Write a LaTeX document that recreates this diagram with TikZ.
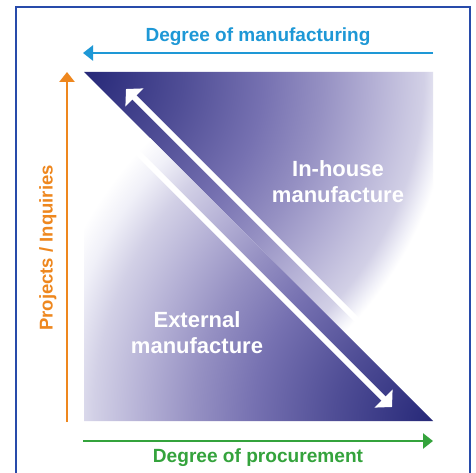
\documentclass[tikz,border=0pt]{standalone}
\usepackage{fontspec}
\setmainfont{Liberation Sans}
\usetikzlibrary{arrows.meta}
\definecolor{cA}{RGB}{38,40,120}
\definecolor{cB}{RGB}{80,78,150}
\definecolor{cC}{RGB}{118,113,177}
\definecolor{cD}{RGB}{150,145,195}
\definecolor{cE}{RGB}{180,176,213}
\definecolor{cF}{RGB}{210,208,230}
\definecolor{cG}{RGB}{240,240,248}
\definecolor{mblue}{RGB}{30,152,214}
\definecolor{morange}{RGB}{238,135,30}
\definecolor{mgreen}{RGB}{52,163,60}
\definecolor{frameblue}{RGB}{40,75,170}
% radius r (px) maps to r/16 bp on a 400px circle
\pgfdeclareradialshading{uppershade}{\pgfpoint{0bp}{0bp}}{color(0bp)=(cA); color(6.25bp)=(cB); color(11.25bp)=(cC); color(15bp)=(cD); color(18.1bp)=(cE); color(21.25bp)=(cF); color(22.4bp)=(cG); color(23bp)=(white); color(50bp)=(white)}
\pgfdeclareradialshading{lowershade}{\pgfpoint{0bp}{0bp}}{color(0bp)=(cA); color(6.25bp)=(cB); color(11.25bp)=(cC); color(15bp)=(cD); color(18.1bp)=(cE); color(21.25bp)=(cF); color(23.4bp)=(cG); color(25bp)=(white); color(50bp)=(white)}
\tikzset{
  frame/.style={draw=frameblue, line width=1.3pt},
  wharrow/.style={draw=white, line width=6pt, -{Triangle[length=12pt,width=25pt]}},
  axisarrow/.style={line width=2.7pt, -{Triangle[length=10pt,width=15pt]}},
  axislbl/.style={inner sep=0pt, anchor=base},
  arealbl/.style={inner sep=0pt, text=white, align=center, font=\bfseries\fontsize{22}{26}\selectfont}
}
\begin{document}
\begin{tikzpicture}[x=1pt,y=-1pt]
\useasboundingbox (0,0) rectangle (476,473);
\fill[white] (0,0) rectangle (476,473);
\draw[frame] (16,7) rectangle (470,495);
\coordinate (TL) at (84,72);
\coordinate (TR) at (433,72);
\coordinate (BL) at (84,421);
\coordinate (BR) at (433,421);
\begin{scope}
  \clip (TL) -- (TR) -- (BR) -- cycle;
  \shade[shading=uppershade] (TL) circle[radius=400pt];
\end{scope}
\begin{scope}
  \clip (TL) -- (BL) -- (BR) -- cycle;
  \shade[shading=lowershade] (BR) circle[radius=400pt];
\end{scope}
% white arrows
\coordinate (ua1) at (425,388);
\coordinate (ua2) at (126,89);
\draw[wharrow] (ua1) -- (ua2);
\coordinate (la1) at (95,110);
\coordinate (la2) at (392,407);
\draw[wharrow] (la1) -- (la2);
% axis arrows
\coordinate (bs) at (433,53);
\coordinate (be) at (83,53);
\draw[axisarrow, draw=mblue, fill=mblue] (bs) -- (be);
\coordinate (os) at (67,422);
\coordinate (oe) at (67,72);
\draw[axisarrow, draw=morange, fill=morange] (os) -- (oe);
\coordinate (gs) at (83,441);
\coordinate (ge) at (433,441);
\draw[axisarrow, draw=mgreen, fill=mgreen] (gs) -- (ge);
% labels
\node[axislbl, text=mblue, font=\bfseries\fontsize{19}{23}\selectfont] (tman) at (258,42) {Degree of manufacturing};
\node[axislbl, text=mgreen, font=\bfseries\fontsize{19.1}{23}\selectfont] (tproc) at (258,462) {Degree of procurement};
\node[axislbl, text=morange, rotate=90, font=\bfseries\fontsize{18.5}{22}\selectfont] (tproj) at (52.5,248) {Projects / Inquiries};
\node[arealbl] (tin) at (338,182) {In-house\\manufacture};
\node[arealbl] (tex) at (197,333) {External\\manufacture};
\end{tikzpicture}
\end{document}
